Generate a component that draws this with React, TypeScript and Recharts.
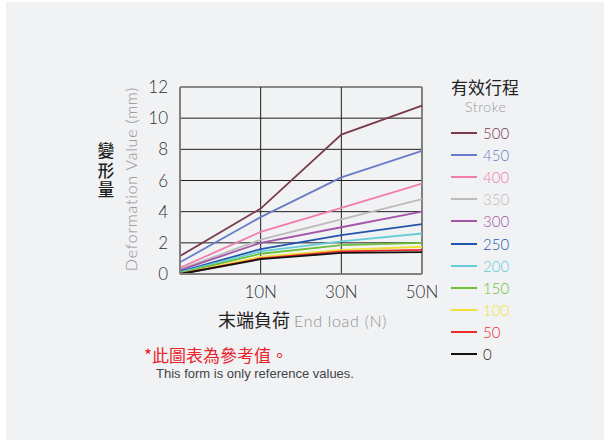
import { LineChart, Line, XAxis, YAxis, CartesianGrid, Legend, ReferenceLine } from "recharts";

// 荷重 (X軸) と 有効行程ごとの変形量 (mm)
const loads = ["0N", "10N", "30N", "50N"];
const strokes = ["500", "450", "400", "350", "300", "250", "200", "150", "100", "50", "0"];
const colors = ["#7a3a4f", "#6a7cc8", "#f07dab", "#bcbcbc", "#a455a9", "#2355ae", "#66cdd8", "#6cbf3a", "#eee23a", "#ee2b2b", "#111111"];

const s500 = [1.15, 4.2, 8.95, 10.8];
const s450 = [0.75, 3.65, 6.2, 7.9];
const s400 = [0.4, 2.7, 4.25, 5.8];
const s350 = [0.3, 2.2, 3.5, 4.8];
const s300 = [0.25, 2.0, 3.0, 4.0];
const s250 = [0.15, 1.6, 2.5, 3.2];
const s200 = [0.1, 1.45, 2.1, 2.6];
const s150 = [0.05, 1.3, 1.85, 2.0];
const s100 = [0, 1.1, 1.55, 1.75];
const s50 = [0, 1.0, 1.45, 1.55];
const s0 = [0, 0.95, 1.35, 1.4];

const values = [s500, s450, s400, s350, s300, s250, s200, s150, s100, s50, s0];
const yTicks = [0, 2, 4, 6, 8, 10, 12];
const yTitleChars = ["變", "形", "量"];

const FONT = "Lato, 'Noto Sans', sans-serif";
const CJK = "'Noto Sans CJK TC', 'Noto Sans CJK SC', sans-serif";

function StrokeLegend() {
  return (
    <div style={{ fontFamily: FONT, fontWeight: 300 }}>
      <div style={{ fontFamily: CJK, fontWeight: 400, fontSize: 17, color: "#222", lineHeight: "18px" }}>有效行程</div>
      <div style={{ fontSize: 14, color: "#999", marginLeft: 14, marginTop: 2, lineHeight: "17px", letterSpacing: 0.6 }}>Stroke</div>
      <div style={{ marginTop: 7 }}>
        {strokes.map((s, i) => (
          <div key={s} style={{ display: "flex", alignItems: "center", height: 22.1 }}>
            <div style={{ width: 26, height: 2, background: colors[i], marginRight: 6 }} />
            <span style={{ fontSize: 15, color: colors[i] === "#111111" ? "#222" : colors[i] }}>{s}</span>
          </div>
        ))}
      </div>
    </div>
  );
}

export default function App() {
  const data = loads.map((load, i) => {
    const point: Record<string, string | number> = { load };
    strokes.forEach((s, k) => {
      point[s] = values[k][i];
    });
    return point;
  });

  return (
    <div style={{ position: "fixed", left: 0, top: 0, width: 610, height: 442, background: "#fff" }}>
      <div style={{ position: "absolute", left: 6, top: 2, width: 598, height: 438, background: "#f1f2f4" }} />
      <div style={{ position: "absolute", left: 0, top: 0 }}>
        <LineChart width={610} height={442} data={data} margin={{ top: 87, right: 188, left: 140, bottom: 138 }}>
          <CartesianGrid stroke="#1e1e1e" strokeWidth={1} />
          <XAxis
            dataKey="load"
            tickLine={false}
            axisLine={{ stroke: "#808080", strokeWidth: 2 }}
            height={30}
            tickMargin={6}
            tick={{ fontSize: 17, fill: "#333", fontFamily: FONT, fontWeight: 300 }}
            tickFormatter={(v: string) => (v === "0N" ? "" : v)}
            interval={0}
          />
          <YAxis
            domain={[0, 12]}
            ticks={yTicks}
            width={40}
            tickLine={false}
            axisLine={{ stroke: "#808080", strokeWidth: 2 }}
            tickMargin={6}
            tick={{ fontSize: 17, fill: "#333", fontFamily: FONT, fontWeight: 300 }}
          />
          <ReferenceLine x="50N" stroke="#808080" strokeWidth={2} />
          <Legend
            layout="vertical"
            align="center"
            verticalAlign="middle"
            content={() => <StrokeLegend />}
            wrapperStyle={{ position: "absolute", left: 451, top: 78, width: 100 }}
          />
          {strokes.map((s, i) => (
            <Line
              key={s}
              dataKey={s}
              type="linear"
              stroke={colors[i]}
              strokeWidth={1.8}
              dot={false}
              isAnimationActive={false}
            />
          ))}
        </LineChart>
      </div>
      {/* 縦軸タイトル */}
      {yTitleChars.map((c, i) => (
        <div
          key={c}
          style={{
            position: "absolute",
            left: 96,
            top: 141 + i * 19.5,
            width: 20,
            height: 19,
            fontFamily: CJK,
            fontSize: 16.5,
            fontWeight: 500,
            color: "#222",
            lineHeight: "19px",
            textAlign: "center",
          }}
        >
          {c}
        </div>
      ))}
      <div
        style={{
          position: "absolute",
          left: 130,
          top: 179,
          transform: "translate(-50%, -50%) rotate(-90deg)",
          whiteSpace: "nowrap",
          fontFamily: FONT,
          fontWeight: 300,
          fontSize: 16,
          letterSpacing: 0.8,
          color: "#909090",
        }}
      >
        Deformation Value (mm)
      </div>
      {/* 横軸タイトル */}
      <div style={{ position: "absolute", left: 218, top: 306, whiteSpace: "nowrap", color: "#222" }}>
        <span style={{ fontFamily: CJK, fontSize: 18 }}>末端負荷</span>
        <span style={{ fontFamily: FONT, fontWeight: 300, fontSize: 16, letterSpacing: 0.7, color: "#909090", marginLeft: 4 }}>End load (N)</span>
      </div>
      {/* 注記 */}
      <div style={{ position: "absolute", left: 144, top: 342, fontFamily: CJK, fontSize: 17, color: "#e8222b", whiteSpace: "nowrap" }}>
        *此圖表為參考值。
      </div>
      <div style={{ position: "absolute", left: 156, top: 366, fontFamily: "'Liberation Sans', Arial, sans-serif", fontSize: 13, color: "#444", whiteSpace: "nowrap" }}>
        This form is only reference values.
      </div>
    </div>
  );
}
